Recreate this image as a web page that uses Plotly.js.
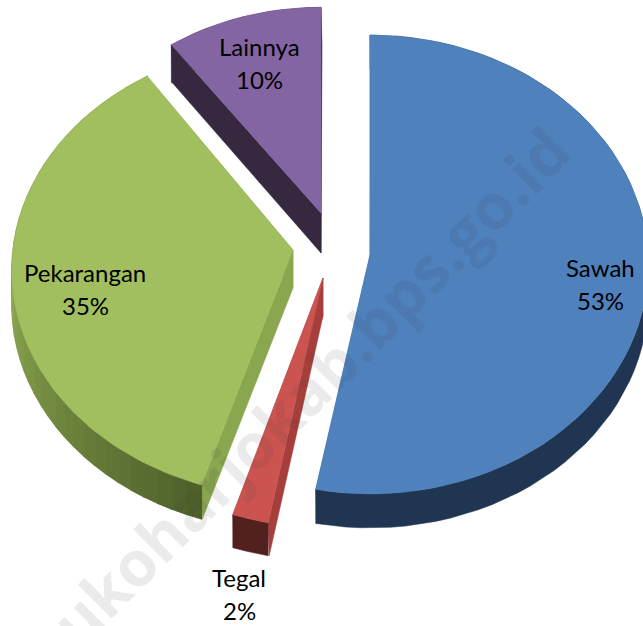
<!DOCTYPE html>
<html>
<head>
<meta charset="utf-8">
<script src="https://cdn.plot.ly/plotly-3.0.1.min.js"></script>
<style>html,body{margin:0;padding:0;background:#fff}#chart{width:643px;height:626px}</style>
</head>
<body>
<div id="chart"></div>
<script>
const categories = ['Sawah', 'Tegal', 'Pekarangan', 'Lainnya'];
const values = [53, 2, 35, 10];

const topColors = ['#4F81BD', '#CB5451', '#A1BF5E', '#8465A3'];
const sideColors = ['#3F6896', '#A63F3C', '#8AA64F', '#35283F'];
const rimFrom = ['#1F3552', '#532020', '#4F612B', '#35283F'];
const rimTo = ['#1F3552', '#532020', '#8CA850', '#35283F'];
const apexX = [370, 323, 293, 321];
const apexY = [255, 278, 250, 213];
const radiusX = [278, 278, 280, 267];
const radiusY = [229, 237, 225, 218];
const persp = [0.0414, 0.05, 0.09, 0.06];
const depthIn = [34, 38, 38, 40];
const depthOut = [34, 33, 34, 38];
const startShift = [0, 0, -0.6, 0];
const endShift = [0, 0, 2, 0];
const drawOrder = [3, 2, 0, 1];
const labelX = [600, 239, 85, 259];
const labelY = [267, 577, 272, 46];
const lineGap = 33;

const total = values.reduce((a, b) => a + b, 0);
const hex = h => [1, 3, 5].map(i => parseInt(h.substr(i, 2), 16));
const mix = (a, b, t) => { const A = hex(a), B = hex(b); return 'rgb(' + A.map((v, i) => Math.round(v + (B[i] - v) * t)).join(',') + ')'; };

function point(i, deg) {
  const r = deg * Math.PI / 180, c = Math.cos(r), s = Math.sin(r), d = 1 + persp[i] * c;
  return [apexX[i] + radiusX[i] * s / d, apexY[i] - radiusY[i] * c / d];
}
function poly(pts, color, lw) {
  const closed = pts.concat([pts[0]]);
  return { type: 'scatter', mode: 'lines', x: closed.map(p => p[0]), y: closed.map(p => p[1]), fill: 'toself', fillcolor: color, line: { color: color, width: lw }, hoverinfo: 'skip', showlegend: false };
}

let cum = 0;
const spans = values.map((v, i) => { const a = cum / total * 360; cum += v; return [a + startShift[i], cum / total * 360 + endShift[i]]; });

const traces = [];
drawOrder.forEach(i => {
  const [a0, a1] = spans[i];
  const n = Math.max(2, Math.ceil((a1 - a0) / 3));
  const apex = [apexX[i], apexY[i]], apexB = [apex[0], apex[1] + depthIn[i]];
  [a0, a1].forEach(a => {
    const p = point(i, a);
    traces.push(poly([apex, p, [p[0] + 1, p[1] + depthOut[i]], apexB], sideColors[i], 0.5));
  });
  if (rimFrom[i] === rimTo[i]) {
    const upper = [], lower = [];
    for (let k = 0; k <= n; k++) {
      const p = point(i, a0 + (a1 - a0) * k / n);
      upper.push(p);
      lower.unshift([p[0], p[1] + depthOut[i]]);
    }
    traces.push(poly(upper.concat(lower), rimFrom[i], 0.5));
  } else {
    for (let k = 0; k < n; k++) {
      const p = point(i, a0 + (a1 - a0) * k / n), q = point(i, a0 + (a1 - a0) * (k + 1) / n);
      traces.push(poly([p, q, [q[0], q[1] + depthOut[i]], [p[0], p[1] + depthOut[i]]], mix(rimFrom[i], rimTo[i], Math.min(1, 2 * k / n)), 1.4));
    }
  }
  const face = [apex];
  for (let k = 0; k <= 2 * n; k++) face.push(point(i, a0 + (a1 - a0) * k / (2 * n)));
  traces.push(poly(face, topColors[i], 0.5));
});

const labelFont = { family: 'Lato, Carlito, sans-serif', size: 24, color: '#000' };
const annotations = [];
categories.forEach((c, i) => {
  annotations.push({ x: labelX[i], y: labelY[i], text: c, showarrow: false, font: labelFont, xanchor: 'center', yanchor: 'middle' });
  annotations.push({ x: labelX[i], y: labelY[i] + lineGap, text: values[i] + '%', showarrow: false, font: labelFont, xanchor: 'center', yanchor: 'middle' });
});
annotations.push({ x: 298, y: 397, text: 'sukoharjokab.bps.go.id', textangle: -45, showarrow: false, font: { family: '"Open Sans", sans-serif', size: 63, weight: 700, color: 'rgba(60,60,60,0.10)' }, xanchor: 'center', yanchor: 'middle' });

Plotly.newPlot('chart', traces, {
  width: 643, height: 626,
  margin: { l: 0, r: 0, t: 0, b: 0 },
  paper_bgcolor: '#fff', plot_bgcolor: '#fff',
  xaxis: { range: [0, 643], visible: false, fixedrange: true },
  yaxis: { range: [626, 0], visible: false, fixedrange: true },
  showlegend: false,
  annotations: annotations
}, { displayModeBar: false, staticPlot: true });
</script>
</body>
</html>
